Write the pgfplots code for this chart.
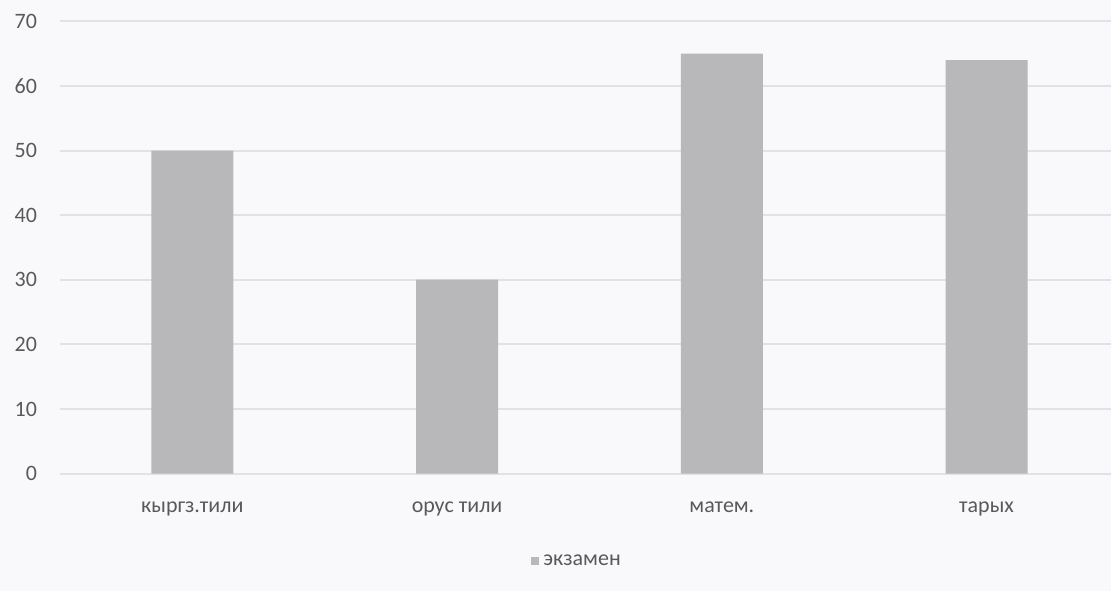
\documentclass[border=0pt]{standalone}
\usepackage{pgfplots}
\pgfplotsset{compat=1.18}
\usepackage{fontspec}
\setmainfont{Carlito}
\definecolor{bgcol}{HTML}{F9F9FC}
\definecolor{gridcol}{HTML}{E2E2E6}
\definecolor{barcol}{HTML}{B8B8BB}
\definecolor{txtcol}{HTML}{595959}
\begin{document}
\begin{tikzpicture}
\fill[bgcol] (-30pt,-59pt) rectangle (526pt,237pt);
\begin{axis}[
    scale only axis,
    width=526pt, height=226.35pt,
    ybar, bar width=41pt,
    xmin=-0.5, xmax=3.47,
    ymin=0, ymax=70,
    ytick={0,10,...,70},
    xtick={0,1,2,3},
    xticklabels={кыргз.тили, орус тили, матем., тарых},
    ymajorgrids=true,
    grid style={gridcol, line width=1pt},
    axis line style={draw=none},
    major tick length=0pt,
    tick label style={font=\fontsize{11}{13}\selectfont, text=txtcol},
    y tick label style={xshift=-8pt},
    x tick label style={yshift=-10.7pt},
    /pgf/number format/assume math mode=true,
    legend style={at={(0.493,-0.194)}, anchor=center, draw=none, fill=none,
        font=\fontsize{11}{13}\selectfont, text=txtcol},
    legend image code/.code={\fill[barcol] (0pt,-2pt) rectangle (4pt,2pt);},
]
\addplot[fill=barcol, draw=none] coordinates {(0,50) (1,30) (2,65) (3,64)};
\legend{экзамен}
\end{axis}
\end{tikzpicture}
\end{document}
